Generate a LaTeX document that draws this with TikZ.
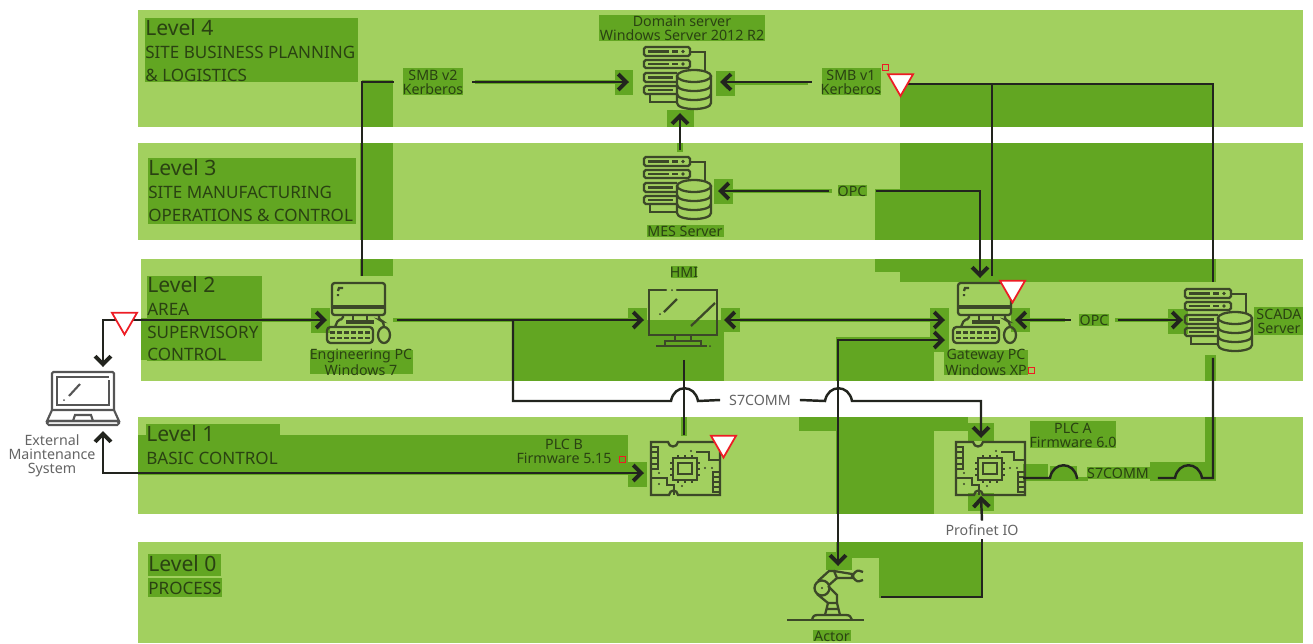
\documentclass[tikz,border=0pt]{standalone}
\usepackage{fontspec}
\setmainfont{Noto Sans}
\usetikzlibrary{arrows.meta,shapes.geometric}
\definecolor{bandgreen}{RGB}{162,208,95}
\definecolor{patchgreen}{RGB}{98,166,34}
\definecolor{wirecolor}{RGB}{34,36,30}
\definecolor{iconcolor}{RGB}{60,72,40}
\definecolor{labelcolor}{RGB}{42,66,18}
\definecolor{greytext}{RGB}{100,100,100}
\definecolor{yieldred}{RGB}{237,28,36}
\tikzset{
  band/.style={fill=bandgreen},
  patch/.style={fill=patchgreen},
  wire/.style={draw=wirecolor,line width=1.4pt},
  iconbox/.style={inner sep=0pt,outer sep=0pt},
  levelname/.style={anchor=north west,align=left,inner sep=0pt,text=labelcolor,font=\fontsize{9.7}{13}\selectfont},
  smalllabel/.style={align=center,inner sep=0pt,text=labelcolor,font=\fontsize{8.1}{8}\selectfont},
  linelabel/.style={smalllabel,inner xsep=5pt,inner ysep=2pt},
  greylabel/.style={linelabel,text=greytext},
  yield/.style={regular polygon,regular polygon sides=3,shape border rotate=180,minimum size=.58cm,inner sep=0pt,outer sep=0pt,draw=yieldred,fill=white,line width=1pt},
  redmark/.style={draw=yieldred,line width=.5pt},
  iconline/.style={draw=iconcolor,line width=1.3pt},
  serverpic/.pic={
    \draw[iconline,rounded corners=1pt] (0,0) rectangle (46,9);
    \draw[iconline,rounded corners=1pt] (0,13) rectangle (46,21);
    \draw[iconline,rounded corners=1pt] (33,26) -- (0,26) -- (0,35) -- (33,35);
    \draw[iconline,rounded corners=1pt] (33,39) -- (0,39) -- (0,47) -- (33,47);
    \draw[iconline] (4,4.5) -- (25,4.5) (28,4.5) -- (34,4.5) (4,17) -- (25,17) (28,17) -- (34,17) (4,30.5) -- (29,30.5) (4,43) -- (29,43);
    \fill[iconcolor] (39,4.5) circle (1.8) (39,17) circle (1.8);
    \draw[iconline] (46,5) -- (61,5) -- (61,24) (6,47) -- (6,55) -- (33,55);
    \draw[iconline] (50,29) ellipse [x radius=17,y radius=6];
    \draw[iconline] (33,29) -- (33,56) .. controls (33,64) and (67,64) .. (67,56) -- (67,29);
    \draw[iconline] (33,38) .. controls (33,46) and (67,46) .. (67,38) (33,47) .. controls (33,55) and (67,55) .. (67,47);
  },
  pcpic/.pic={
    \draw[iconline,rounded corners=1.5pt] (0,0) rectangle (53,32);
    \draw[iconline,line width=1.8pt] (0,24) -- (53,24);
    \draw[iconline] (11,5) -- (7,5) -- (6,8) (6,11) -- (6,13);
    \draw[iconline] (21,32) -- (21,39) (35,32) -- (35,39);
    \draw[iconline,line width=1.8pt] (14,39) -- (42,39);
    \draw[iconline,rounded corners=1pt] (11,32) -- (11,36) -- (6,37) -- (3,44);
    \draw[iconline,rounded corners=2pt] (-5,44) rectangle (41,60);
    \draw[iconline,line width=1.4pt,dash pattern=on 3pt off 1pt] (-2,49.5) -- (38,49.5) (-2,55) -- (38,55);
    \draw[iconline] (52,52) ellipse [x radius=6,y radius=8];
    \draw[iconline,rounded corners=1.5pt] (47,32) -- (47,37) -- (51,38) -- (52,44);
  },
  hmipic/.pic={
    \draw[iconline,line cap=round] (17,0) -- (0,0) -- (0,45) -- (68,45) -- (68,0) -- (28,0);
    \fill[iconcolor] (23,0) circle (1);
    \draw[iconline] (15,22) -- (28,9) (42,36) -- (66,13);
    \fill[iconcolor] (11,24) circle (1);
    \draw[iconline] (26,45) -- (26,51) (42,45) -- (42,51);
    \draw[iconline] (16,56) -- (16,51) -- (52,51) -- (52,56);
    \draw[iconline] (7,56) -- (58,56);
    \fill[iconcolor] (61,56) circle (1);
  },
  plcpic/.pic={
    \draw[iconline] (0,0) -- (17,0) .. controls (18,6) and (26,6) .. (27,0) -- (69,0) -- (69,53) -- (27,53) .. controls (26,47) and (19,47) .. (18,53) -- (0,53) -- cycle;
    \draw[iconline] (1,5) -- (7,5) -- (7,27) -- (1,27) (1,10) -- (7,10) (1,16) -- (7,16) (1,22) -- (7,22);
    \draw[iconline] (68,30) -- (62,30) -- (62,50) -- (68,50) (62,35) -- (68,35) (62,40) -- (68,40) (62,45) -- (68,45);
    \draw[iconline] (22,16) rectangle (46,38);
    \draw[iconline] (27,21) rectangle (41,32);
    \draw[iconline] (19,21) -- (22,21) (19,27) -- (22,27) (19,33) -- (22,33) (46,21) -- (49,21) (46,27) -- (49,27) (46,33) -- (49,33);
    \draw[iconline] (27,13) -- (27,16) (34,13) -- (34,16) (41,13) -- (41,16) (27,38) -- (27,41) (34,38) -- (34,41) (41,38) -- (41,41);
    \draw[iconline] (0,36) -- (16,36) -- (16,43) -- (23,43) -- (23,53);
    \draw[iconline] (45,10) -- (58,10) -- (58,18) -- (69,18);
    \fill[iconcolor] (40,9) circle (1.2) (61,26) circle (1.2) (8,31) circle (1.2) (8,42) circle (1.2) (31,44) circle (1.2) (54,26) circle (1.2);
  },
  laptoppic/.pic={
    \draw[draw=greytext!85!black,line width=1.2pt,rounded corners=.8pt] (0,38) -- (0,0) -- (62,0) -- (62,38);
    \draw[draw=greytext!85!black,line width=1.2pt] (57,8) -- (57,33) -- (5,33) -- (5,5) -- (57,5) (5,24) -- (5,28);
    \draw[draw=greytext!85!black,line width=1.2pt] (17,24) -- (28,12);
    \fill[greytext!85!black] (12,28) circle (1);
    \draw[draw=greytext!85!black,line width=1.2pt] (0,38) -- (62,38) -- (67,49) -- (-5,49) -- cycle;
    \draw[draw=greytext!85!black,line width=1.2pt,rounded corners=1pt] (-5,49) rectangle (67,53);
    \draw[draw=greytext!85!black,line width=1.2pt] (21,49) -- (23,43) -- (39,43) -- (41,49);
  },
  robotpic/.pic={
    \draw[iconline] (0,50) -- (77,50);
    \draw[iconline] (25,50) .. controls (26,46) and (27,45) .. (31,45) -- (59,45) .. controls (63,45) and (64,47) .. (65,50);
    \draw[iconline] (41,33) -- (38,45) (50,33) -- (53,45) (40,39) -- (52,39) (41,33) -- (50,33);
    \draw[iconline] (35,18) circle (7.5);
    \fill[iconcolor] (35,18) circle (1.2);
    \draw[iconline] (30,24) -- (41,33) (41,16) -- (50,25) -- (50,33);
    \draw[iconline] (31,11) -- (42,1) -- (47,1) -- (50,8) -- (42,15);
    \draw[iconline] (47,1) -- (65,4) -- (65,8) -- (50,8);
    \draw[iconline,rounded corners=1.5pt] (76,2) -- (70,0) -- (65,6) -- (70,12) -- (76,10);
  }
}
\begin{document}
\begin{tikzpicture}[x=.02cm,y=-.02cm,>={Straight Barb[length=4.6pt,width=9pt,line width=2.2pt]}]
\useasboundingbox (0,0) rectangle (1313,643);
% level bands
\fill[band] (138,10) rectangle (1303,127);
\fill[band] (138,143) rectangle (1303,240);
\fill[band] (141,259) rectangle (1303,381);
\fill[band] (138,417) rectangle (1303,514);
\fill[band] (138,542) rectangle (1303,643);
% level 4 patches
\fill[patch] (145,18) rectangle (358,82);
\fill[patch] (599,15) rectangle (765,41);
\fill[patch] (403,68) rectangle (463,95);
\fill[patch] (822,68) rectangle (881,95);
\fill[patch] (362,80) rectangle (393,127);
\fill[patch] (475,80) rectangle (633,84);
\fill[patch] (615,70) rectangle (633,95);
\fill[patch] (716,71) rectangle (735,96);
\fill[patch] (735,81) rectangle (808,85);
\fill[patch] (667,110) rectangle (694,127);
\fill[patch] (900,84) rectangle (1213,127);
% level 3 patches
\fill[patch] (148,158) rectangle (356,224);
\fill[patch] (360,143) rectangle (393,240);
\fill[patch] (677,143) rectangle (683,152);
\fill[patch] (714,179) rectangle (733,204);
\fill[patch] (733,189) rectangle (832,193);
\fill[patch] (838,185) rectangle (867,196);
\fill[patch] (647,225) rectangle (724,237);
\fill[patch] (900,143) rectangle (1213,189);
\fill[patch] (875,189) rectangle (1213,240);
% level 2 patches
\fill[patch] (147,276) rectangle (262,361);
\fill[patch] (141,318) rectangle (318,322);
\fill[patch] (141,320) rectangle (262,360);
\fill[patch] (311,308) rectangle (330,333);
\fill[patch] (360,259) rectangle (393,276);
\fill[patch] (393,318) rectangle (628,322);
\fill[patch] (310,350) rectangle (413,374);
\fill[patch] (671,266) rectangle (697,278);
\fill[patch] (628,308) rectangle (647,328);
\fill[patch] (721,308) rectangle (740,332);
\fill[patch] (513,320) rectangle (724,381);
\fill[patch] (740,318) rectangle (930,322);
\fill[patch] (875,259) rectangle (1216,272);
\fill[patch] (900,272) rectangle (1216,282);
\fill[patch] (836,337) rectangle (934,381);
\fill[patch] (836,337) rectangle (949,352);
\fill[patch] (930,308) rectangle (949,352);
\fill[patch] (944,350) rectangle (1028,375);
\fill[patch] (1011,308) rectangle (1030,332);
\fill[patch] (1030,318) rectangle (1065,322);
\fill[patch] (1079,314) rectangle (1109,326);
\fill[patch] (1115,318) rectangle (1168,322);
\fill[patch] (1168,309) rectangle (1188,334);
\fill[patch] (1254,307) rectangle (1303,335);
\fill[patch] (1205,355) rectangle (1216,381);
% level 1 patches
\fill[patch] (146,424) rectangle (280,435);
\fill[patch] (138,435) rectangle (628,475);
\fill[patch] (628,462) rectangle (647,487);
\fill[patch] (681,417) rectangle (687,436);
\fill[patch] (799,417) rectangle (968,431);
\fill[patch] (836,431) rectangle (934,514);
\fill[patch] (968,423) rectangle (994,441);
\fill[patch] (968,493) rectangle (994,511);
\fill[patch] (1030,421) rectangle (1116,448);
\fill[patch] (1023,464) rectangle (1048,481);
\fill[patch] (1048,477) rectangle (1088,481);
\fill[patch] (1050,466) rectangle (1077,481);
\fill[patch] (1087,467) rectangle (1150,479);
\fill[patch] (1150,462) rectangle (1205,481);
\fill[patch] (1205,417) rectangle (1216,481);
% level 0 patches
\fill[patch] (148,554) rectangle (221,576);
\fill[patch] (148,578) rectangle (222,597);
\fill[patch] (836,542) rectangle (983,558);
\fill[patch] (879,558) rectangle (983,598);
\fill[patch] (826,552) rectangle (852,570);
\fill[patch] (813,630) rectangle (851,641);
% level texts
\node[levelname] (levelfour) at (145,19) {{\fontsize{12}{13}\selectfont Level 4}\\SITE BUSINESS PLANNING\\\& LOGISTICS};
\node[levelname] (levelthree) at (148,159) {{\fontsize{12}{13}\selectfont Level 3}\\SITE MANUFACTURING\\OPERATIONS \& CONTROL};
\node[levelname] (leveltwo) at (147,276) {{\fontsize{12}{13}\selectfont Level 2}\\AREA\\SUPERVISORY\\CONTROL};
\node[levelname] (levelone) at (146,425) {{\fontsize{12}{13}\selectfont Level 1}\\BASIC CONTROL};
\node[levelname] (levelzero) at (148,555) {{\fontsize{12}{13}\selectfont Level 0}\\PROCESS};
% devices
\node[iconbox,minimum width=2.04cm,minimum height=1.24cm] (domain) at (680,82) {};
\node[iconbox,minimum width=1.52cm,minimum height=1.64cm] (mes) at (680,191) {};
\node[iconbox,minimum width=1.4cm,minimum height=1.76cm] (engpc) at (362,320) {};
\node[iconbox,minimum width=1.6cm,minimum height=1.6cm] (hmi) at (684,320) {};
\node[iconbox,minimum width=1.4cm,minimum height=1.68cm] (gateway) at (980,320) {};
\node[iconbox,minimum width=1.2cm,minimum height=1.52cm] (scada) at (1213,320) {};
\node[iconbox,minimum width=1.6cm,minimum height=1.52cm] (plcb) at (684,473) {};
\node[iconbox,minimum width=1.68cm,minimum height=1.16cm] (plca) at (981,467) {};
\node[iconbox,minimum width=1.72cm,minimum height=1.24cm] (actor) at (838,597) {};
\node[iconbox,minimum width=1.2cm,minimum height=1.28cm] (laptop) at (103,399) {};
\pic at (644,47) {serverpic};
\pic at (644,157) {serverpic};
\pic at (1185,289) {serverpic};
\pic at (332,283) {pcpic};
\pic at (958,283) {pcpic};
\pic at (649,290) {hmipic};
\pic at (651,442) {plcpic};
\pic at (956,442) {plcpic};
\pic at (52,372) {laptoppic};
\pic at (787,570) {robotpic};
% device labels
\node[smalllabel] (domainname) at (682,28) {Domain server\\Windows Server 2012 R2};
\node[smalllabel] (mesname) at (685,231) {MES Server};
\node[smalllabel] (engname) at (361,362) {Engineering PC\\Windows 7};
\node[smalllabel] (hminame) at (684,272) {HMI};
\node[smalllabel] (gatewayname) at (986,362) {Gateway PC\\Windows XP};
\node[smalllabel] (scadaname) at (1279,321) {SCADA\\Server};
\node[smalllabel] (plcbname) at (564,451) {PLC B\\Firmware 5.15};
\node[smalllabel] (plcaname) at (1073,435) {PLC A\\Firmware 6.0};
\node[smalllabel] (actorname) at (832,636) {Actor};
\node[smalllabel,text=greytext] (laptopname) at (52,456) {External\\Maintenance\\System};
% connector labels
\node[linelabel] (smbtwo) at (433,82) {SMB v2\\Kerberos};
\node[linelabel] (smbone) at (851,82) {SMB v1\\Kerberos};
\node[linelabel] (opcthree) at (852,191) {OPC};
\node[linelabel] (opctwo) at (1094,320) {OPC};
\node[greylabel] (sevenone) at (760,400) {S7COMM};
\node[linelabel] (seventwo) at (1118,473) {S7COMM};
\node[greylabel] (profinet) at (982,530) {Profinet IO};
% free ends
\coordinate (topbus) at (905,84);
\coordinate (gwtop) at (992,276);
\coordinate (gwlow) at (945,340);
\coordinate (sevenjoin) at (513,320);
\coordinate (plcaeast) at (1023,478);
% connectors
\draw[wire,<->] (engpc.west) -| (laptop.north);
\draw[wire,<->] (plcb.west) -| (laptop.south);
\draw[wire] (engpc.north) |- (smbtwo.west);
\draw[wire,->] (smbtwo.east) -- (domain.west);
\draw[wire,->,shorten >=-6.2pt] (smbone.west) -- (domain.east);
\draw[wire,->] (mes.north) -- (domain.south);
\draw[wire,->] (opcthree.west) -- (mes.east);
\draw[wire,->] (opcthree.east) -| (gateway.north);
\draw[wire] (topbus) -| (scada.north);
\draw[wire] (topbus -| gwtop) -- (gwtop);
\draw[wire,->] (engpc.east) -- (hmi.west);
\draw[wire,<->] (hmi.east) -- (gateway.west);
\draw[wire,<->] (gwlow) -| (actor.north);
\draw[wire,->] (opctwo.west) -- (gateway.east);
\draw[wire,->] (opctwo.east) -- (scada.west);
\draw[wire] (hmi.south) -- (plcb.north);
\draw[wire] (sevenjoin) |- (671,401) .. controls (674,384) and (695,384) .. (698,401) -- (sevenone.west);
\draw[wire,->] (sevenone.east) -- (825,401) .. controls (828,384) and (849,384) .. (852,401) -| (plca.north);
\draw[wire] (scada.south) |- (1202,478) .. controls (1199,461) and (1178,461) .. (1175,478) -- (seventwo.east |- plcaeast);
\draw[wire] (seventwo.west |- plcaeast) -- (1077,478) .. controls (1074,461) and (1053,461) .. (1050,478) -- (plcaeast);
\draw[wire,->] (profinet.north) -- (plca.south);
\draw[wire] (profinet.south) |- (actor.east);
% warning marks
\node[yield] (yieldext) at (124.5,320) {};
\node[yield] (yieldtop) at (900.5,81.5) {};
\node[yield] (yieldgw) at (1012.5,288) {};
\node[yield] (yieldplc) at (723.5,443) {};
\draw[redmark] (882,64) rectangle (888,70);
\draw[redmark] (1028,367) rectangle (1034,373);
\draw[redmark] (619,456) rectangle (625,462);
\end{tikzpicture}
\end{document}
